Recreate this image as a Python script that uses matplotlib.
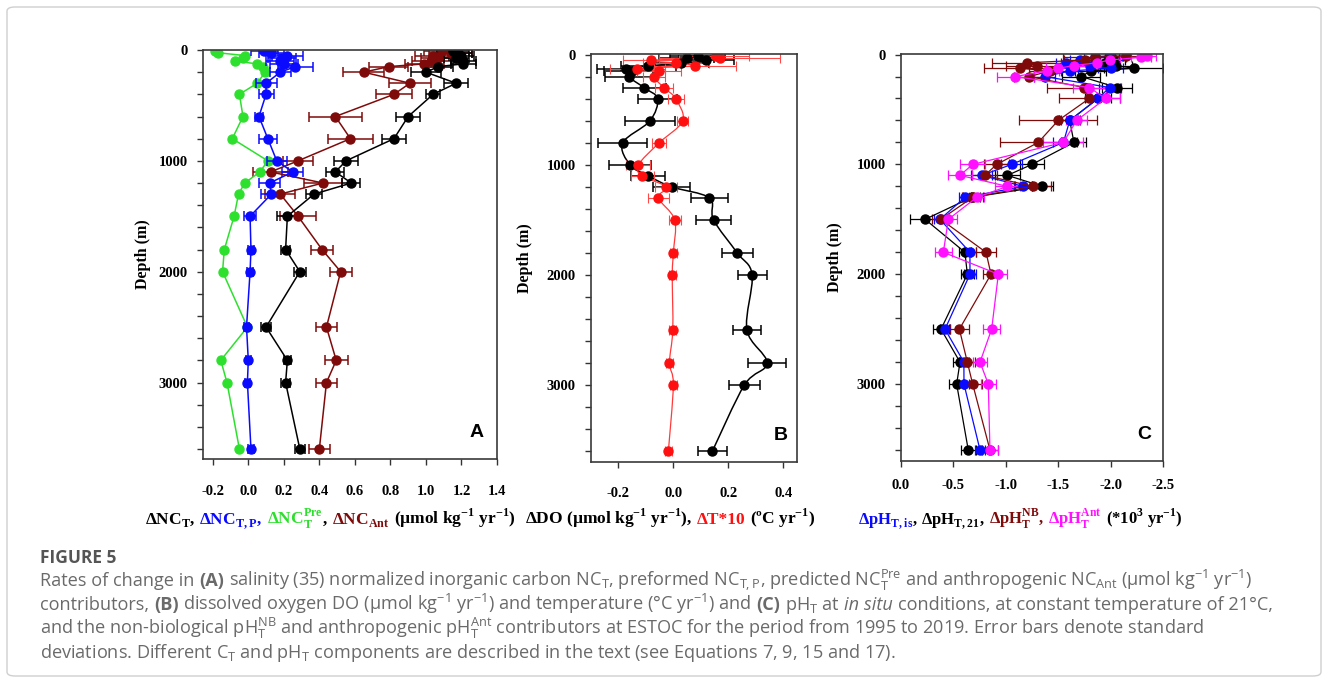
import numpy as np
import matplotlib.pyplot as plt
from matplotlib.path import Path
from matplotlib.patches import PathPatch, FancyBboxPatch
from matplotlib.ticker import MultipleLocator, FixedLocator

plt.rcParams['font.family'] = 'serif'
plt.rcParams['font.serif'] = ['Liberation Serif', 'DejaVu Serif']
plt.rcParams['font.weight'] = 'bold'
plt.rcParams['axes.labelweight'] = 'bold'

# sampling depths (m)
depth = [10, 25, 50, 75, 100, 125, 150, 200, 300, 400, 600, 800, 1000, 1100,
         1200, 1300, 1500, 1800, 2000, 2500, 2800, 3000, 3600]

# (A) carbon rates, umol kg-1 yr-1
nct = [1.15, 1.18, 1.20, 1.17, 1.21, 1.21, 1.07, 1.00, 1.17, 1.04, 0.90, 0.82,
       0.55, 0.49, 0.58, 0.37, 0.22, 0.21, 0.29, 0.10, 0.22, 0.21, 0.29]
nct_sd = [0.09, 0.08, 0.07, 0.07, 0.07, 0.07, 0.08, 0.085, 0.066, 0.04, 0.066, 0.066,
          0.066, 0.05, 0.05, 0.045, 0.06, 0.025, 0.033, 0.03, 0.02, 0.025, 0.027]
nctp = [0.09, 0.13, 0.22, 0.19, 0.18, 0.20, 0.265, 0.18, 0.10, 0.10, 0.06, 0.11,
        0.16, 0.25, 0.12, 0.13, 0.01, 0.015, 0.01, -0.01, 0.0, -0.005, 0.015]
nctp_sd = [0.077, 0.07, 0.089, 0.08, 0.08, 0.08, 0.10, 0.06, 0.059, 0.042, 0.025, 0.05,
           0.056, 0.058, 0.061, 0.058, 0.033, 0.018, 0.018, 0.015, 0.015, 0.015, 0.015]
nct_pre = [-0.19, -0.17, -0.02, -0.03, -0.075, 0.05, 0.08, 0.095, 0.05, -0.05, -0.03, -0.09,
           0.11, 0.065, -0.02, -0.055, -0.08, -0.135, -0.145, -0.005, -0.155, -0.12, -0.05]
ncant = [1.09, 1.14, 1.04, 1.07, 1.03, 0.99, 0.79, 0.65, 0.91, 0.82, 0.49, 0.575,
         0.28, 0.125, 0.42, 0.18, 0.28, 0.415, 0.52, 0.44, 0.495, 0.44, 0.40]
ncant_sd = [0.1, 0.12, 0.1, 0.1, 0.11, 0.11, 0.108, 0.116, 0.117, 0.10, 0.148, 0.125,
            0.087, 0.10, 0.108, 0.085, 0.10, 0.064, 0.062, 0.057, 0.065, 0.059, 0.061]

# (B) oxygen and temperature*10
ddo = [0.09, 0.05, 0.12, 0.03, -0.09, -0.17, -0.15, -0.16, -0.104, -0.056, -0.084, -0.183,
       -0.156, -0.09, -0.005, 0.132, 0.147, 0.233, 0.287, 0.268, 0.341, 0.259, 0.143]
ddo_sd = [0.1, 0.1, 0.1, 0.1, 0.1, 0.106, 0.1, 0.088, 0.079, 0.07, 0.091, 0.088,
          0.075, 0.062, 0.068, 0.068, 0.065, 0.056, 0.053, 0.051, 0.068, 0.055, 0.053]
dt10 = [0.155, 0.17, -0.08, 0.01, 0.08, -0.13, -0.05, -0.07, -0.032, 0.01, 0.035, -0.051,
        -0.126, -0.112, -0.025, -0.053, 0.006, 0.001, -0.003, -0.001, -0.013, 0.001, -0.017]
dt10_sd = [0.12, 0.22, 0.10, 0.12, 0.15, 0.10, 0.08, 0.04, 0.033, 0.03, 0.021, 0.026,
           0.044, 0.042, 0.04, 0.039, 0.021, 0.012, 0.012, 0.012, 0.012, 0.012, 0.012]

# (C) pH rates, *10^3 yr-1
ph_is = [-1.99, -1.85, -1.71, -1.575, -1.80, -2.00, -1.61, -1.37, -1.99, -1.88, -1.61, -1.55,
         -1.056, -0.77, -1.167, -0.611, -0.372, -0.658, -0.658, -0.42, -0.60, -0.601, -0.754]
ph_is_sd = [0.12, 0.1, 0.1, 0.1, 0.1, 0.12, 0.08, 0.1, 0.1, 0.08, 0.08, 0.1,
            0.1, 0.1, 0.08, 0.06, 0.06, 0.06, 0.06, 0.05, 0.05, 0.05, 0.05]
ph_21 = [-2.00, -1.98, -2.02, -1.95, -2.05, -2.22, -1.81, -1.72, -2.06, -1.88, -1.61, -1.65,
         -1.25, -1.015, -1.35, -0.674, -0.23, -0.61, -0.633, -0.382, -0.563, -0.531, -0.642]
ph_21_sd = [0.12, 0.1, 0.12, 0.12, 0.15, 0.28, 0.15, 0.18, 0.145, 0.12, 0.1, 0.12,
            0.115, 0.12, 0.1, 0.08, 0.14, 0.06, 0.06, 0.08, 0.07, 0.07, 0.07]
ph_nb = [-2.15, -1.85, -1.76, -1.20, -1.30, -1.14, -1.42, -1.225, -1.746, -1.797, -1.50, -1.31,
         -0.913, -0.80, -1.257, -0.684, -0.379, -0.811, -0.859, -0.557, -0.633, -0.684, -0.849]
ph_nb_sd = [0.15, 0.3, 0.2, 0.33, 0.3, 0.35, 0.2, 0.15, 0.35, 0.29, 0.37, 0.37,
            0.12, 0.12, 0.175, 0.1, 0.08, 0.1, 0.08, 0.09, 0.07, 0.09, 0.08]
ph_ant = [-2.35, -2.29, -1.99, -1.87, -1.65, -1.50, -1.39, -1.09, -1.797, -1.953, -1.676, -1.549,
          -0.684, -0.563, -1.015, -0.722, -0.452, -0.404, -0.929, -0.865, -0.754, -0.833, -0.849]
ph_ant_sd = [0.08, 0.1, 0.1, 0.1, 0.12, 0.12, 0.12, 0.175, 0.16, 0.14, 0.1, 0.19,
             0.12, 0.116, 0.12, 0.07, 0.08, 0.08, 0.08, 0.08, 0.07, 0.07, 0.08]

BLUE, GREEN, MAROON, RED, MAGENTA = '#0a0aff', '#2ee02e', '#7f0a0a', '#ff1010', '#ff10ff'

W, H = 1328, 683
fig = plt.figure(figsize=(W / 100, H / 100), dpi=100)


def add_ax(l, t, r, b):
    return fig.add_axes([l / W, 1 - b / H, (r - l) / W, (b - t) / H])


def style(ax, xlim, xticks, ylim, xpad):
    ax.set_xlim(*xlim)
    ax.set_ylim(*ylim)
    ax.xaxis.set_major_locator(FixedLocator(xticks))
    ax.set_xticklabels(['%.1f' % v for v in xticks])
    ax.yaxis.set_major_locator(FixedLocator([0, 1000, 2000, 3000]))
    ax.yaxis.set_minor_locator(MultipleLocator(200))
    ax.tick_params(axis='both', which='both', direction='out', length=4,
                   width=1, color='#333333', labelsize=10.5)
    ax.tick_params(axis='x', pad=xpad)
    ax.tick_params(axis='y', pad=7)
    for s in ax.spines.values():
        s.set_color('#3a3a3a')
        s.set_linewidth(1.2)
    ax.set_ylabel('Depth (m)', fontsize=11.5)


def smooth(ax, x, y, color, lw):
    # Catmull-Rom style bezier through the points
    p = np.column_stack([x, y]).astype(float)
    verts, codes = [p[0]], [Path.MOVETO]
    n = len(p)
    for i in range(n - 1):
        p0, p1, p2, p3 = p[max(i - 1, 0)], p[i], p[i + 1], p[min(i + 2, n - 1)]
        verts += [p1 + (p2 - p0) / 6, p2 - (p3 - p1) / 6, p2]
        codes += [Path.CURVE4] * 3
    ax.add_patch(PathPatch(Path(verts, codes), fill=False, ec=color, lw=lw, zorder=2))


eb = dict(ms=6.5, capsize=3.5, elinewidth=1.1, capthick=1.1, lw=1.1)

# ---- panel A
axA = add_ax(203, 50, 497, 459)
axA.errorbar(ncant, depth, xerr=ncant_sd, fmt='-o', color=MAROON, **eb)
axA.errorbar(nct, depth, xerr=nct_sd, fmt='-o', color='black', **eb)
axA.plot(nct_pre, depth, '-o', color=GREEN, ms=6.5, lw=1.1)
axA.errorbar(nctp, depth, xerr=nctp_sd, fmt='-o', color=BLUE, **eb)
style(axA, (-0.255, 1.4), [-0.2, 0, 0.2, 0.4, 0.6, 0.8, 1.0, 1.2, 1.4], (3690, 0), 15)
axA.yaxis.set_label_coords(-0.177, 0.5)

# ---- panel B
axB = add_ax(591, 54, 797, 462)
axB.errorbar(ddo, depth, xerr=ddo_sd, fmt='o', color='black', **eb)
smooth(axB, ddo, depth, 'black', 1.1)
axB.errorbar(dt10, depth, xerr=dt10_sd, fmt='o', color=RED, ms=6.5, capsize=3.5,
             elinewidth=0.8, capthick=0.8, ecolor='#ff4a4a')
smooth(axB, dt10, depth, '#ff3a3a', 0.9)
style(axB, (-0.298, 0.45), [-0.2, 0.0, 0.2, 0.4], (3700, -8), 14)
axB.yaxis.set_label_coords(-0.282, 0.5)

# ---- panel C
axC = add_ax(901, 54, 1163, 461)
ebc = dict(ms=6.5, capsize=3.5, elinewidth=0.9, capthick=0.9, lw=0.9)
axC.errorbar(ph_21, depth, xerr=ph_21_sd, fmt='-o', color='black', **ebc)
axC.errorbar(ph_is, depth, xerr=ph_is_sd, fmt='-o', color=BLUE, **ebc)
axC.errorbar(ph_nb, depth, xerr=ph_nb_sd, fmt='-o', color=MAROON, **ebc)
axC.errorbar(ph_ant, depth, xerr=ph_ant_sd, fmt='-o', color=MAGENTA, **ebc)
style(axC, (0, -2.5), [0.0, -0.5, -1.0, -1.5, -2.0, -2.5], (3700, -5), 9)
axC.yaxis.set_label_coords(-0.221, 0.5)

for ax, letter in [(axA, 'A'), (axB, 'B'), (axC, 'C')]:
    ax.text(0.955, 0.045, letter, transform=ax.transAxes, ha='right', va='bottom',
            fontsize=14, fontweight='bold', family='Liberation Sans')

renderer = fig.canvas.get_renderer()


def row(x, y, pieces, align='left', **common):
    """Lay out text pieces side by side on one baseline (pixel coords)."""
    arts, gaps = [], []
    for s, kw, sp in pieces:
        props = dict(common)
        props.update(kw)
        arts.append(fig.text(0, 1 - y / H, s, va='baseline', ha='left', **props))
        probe = fig.text(0, 0, 'x x', **props)
        probe2 = fig.text(0, 0, 'xx', **props)
        gap = probe.get_window_extent(renderer).width - probe2.get_window_extent(renderer).width
        probe.remove()
        probe2.remove()
        gaps.append(gap if sp else 0)
    widths = [a.get_window_extent(renderer).width for a in arts]
    total = sum(widths) + sum(gaps[:-1])
    x0 = x - total / 2 if align == 'center' else x
    for a, w, g in zip(arts, widths, gaps):
        a.set_x(x0 / W)
        x0 += w + g


R = r'\mathregular'
lab = dict(fontsize=12.5, fontweight='bold', family='Liberation Serif')
row(330, 524, [
    (r'ΔNC$_%s{T}$,' % R, dict(color='black'), True),
    (r'ΔNC$_%s{T,P}$,' % R, dict(color=BLUE), True),
    (r'ΔNC$_%s{T}^%s{Pre}$' % (R, R), dict(color=GREEN), False),
    (',', dict(color='black'), True),
    (r'ΔNC$_%s{Ant}$' % R, dict(color=MAROON), True),
    (r'(µmol kg$^%s{-1}$ yr$^%s{-1}$)' % (R, R), dict(color='black'), False),
], align='center', **lab)
row(670, 524, [
    (r'ΔDO (µmol kg$^%s{-1}$ yr$^%s{-1}$),' % (R, R), dict(color='black'), True),
    ('ΔT*10', dict(color=RED), True),
    (r'(ºC yr$^%s{-1}$)' % R, dict(color='black'), False),
], align='center', **lab)
lab_c = dict(lab, fontsize=12)
row(1020, 524, [
    (r'ΔpH$_%s{T,is}$' % R, dict(color=BLUE), False),
    (',', dict(color='black'), True),
    (r'ΔpH$_%s{T,21}$,' % R, dict(color='black'), True),
    (r'ΔpH$_%s{T}^%s{NB}$,' % (R, R), dict(color=MAROON), True),
    (r'ΔpH$_%s{T}^%s{Ant}$' % (R, R), dict(color=MAGENTA), True),
    (r'(*10$^%s{3}$ yr$^%s{-1}$)' % (R, R), dict(color='black'), False),
], align='center', **lab_c)

# caption block
cap = dict(fontsize=13.1, color='#6a6a6a', family='Open Sans', fontweight='normal')
bold = dict(fontweight='bold')
fig.text(40 / W, 1 - 563 / H, 'FIGURE 5', va='baseline', fontsize=12.5, color='#555555',
         family='Open Sans', fontweight='bold')
row(40, 586, [
    ('Rates of change in', {}, True), ('(A)', bold, True),
    (r'salinity (35) normalized inorganic carbon NC$_%s{T}$, preformed NC$_%s{T,P}$, '
     r'predicted NC$_%s{T}^%s{Pre}$ and anthropogenic NC$_%s{Ant}$ '
     r'(µmol kg$^%s{−1}$ yr$^%s{−1}$)' % ((R,) * 7), {}, False),
], **cap)
row(40, 610, [
    ('contributors,', {}, True), ('(B)', bold, True),
    (r'dissolved oxygen DO (µmol kg$^%s{−1}$ yr$^%s{−1}$) and temperature '
     r'(°C yr$^%s{−1}$) and' % ((R,) * 3), {}, True),
    ('(C)', bold, True), (r'pH$_%s{T}$ at' % R, {}, True),
    ('in situ', dict(style='italic'), True),
    ('conditions, at constant temperature of 21°C,', {}, False),
], **cap)
row(40, 634, [
    (r'and the non-biological pH$_%s{T}^%s{NB}$ and anthropogenic pH$_%s{T}^%s{Ant}$ '
     r'contributors at ESTOC for the period from 1995 to 2019. Error bars denote standard'
     % ((R,) * 4), {}, False),
], **cap)
row(40, 658, [
    (r'deviations. Different C$_%s{T}$ and pH$_%s{T}$ components are described in the text '
     r'(see Equations 7, 9, 15 and 17).' % (R, R), {}, False),
], **cap)

fig.patches.append(FancyBboxPatch((7 / W, 7 / H), 1 - 14 / W, 1 - 14 / H,
                                  boxstyle='round,pad=0,rounding_size=0.006',
                                  transform=fig.transFigure, fill=False,
                                  ec='#cfcfcf', lw=1.0, zorder=-1))

fig.savefig('out.png', dpi=100)
